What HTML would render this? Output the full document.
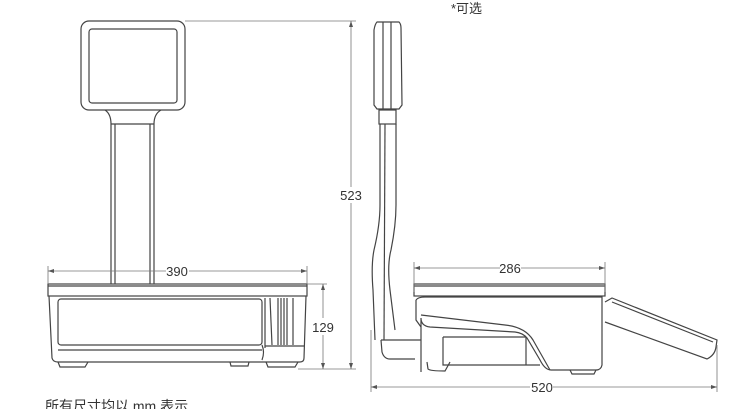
<!DOCTYPE html>
<html><head><meta charset="utf-8"><style>
html,body{margin:0;padding:0;background:#fff;width:755px;height:409px;overflow:hidden}
svg{display:block}
text{font-family:"Liberation Sans","Noto Sans CJK SC",sans-serif;fill:#333}
</style></head><body>
<svg width="755" height="409" viewBox="0 0 755 409" xmlns="http://www.w3.org/2000/svg">
<g fill="none" stroke="#444" stroke-width="1.2">
<!-- LEFT VIEW -->
<rect x="81" y="21" width="104" height="89" rx="8"/>
<rect x="89" y="29" width="88" height="74" rx="3"/>
<path d="M105 110 Q111 114 111 124 L111 284 M161 110 Q154 114 154 124 L154 284"/>
<line x1="111" y1="124" x2="154" y2="124"/>
<line x1="115" y1="124" x2="115" y2="284"/>
<line x1="150" y1="124" x2="150" y2="284"/>
<rect x="48" y="284" width="259" height="12"/>
<line x1="48" y1="286" x2="307" y2="286"/>
<path d="M49 296 L52 358 Q53 362 58 362 L300 362 Q304 362 304 358 L306 296"/>
<rect x="58" y="299" width="204" height="46" rx="3"/>
<line x1="58" y1="350" x2="262" y2="350"/>
<path d="M262 345 Q265 352 262 360"/>
<line x1="265" y1="298" x2="265" y2="348"/>
<line x1="270" y1="298" x2="272" y2="345"/>
<line x1="278" y1="298" x2="278" y2="345"/>
<line x1="281" y1="298" x2="281" y2="345"/>
<line x1="284" y1="298" x2="284" y2="345"/>
<line x1="287" y1="298" x2="287" y2="345"/>
<line x1="293" y1="298" x2="293" y2="345"/>
<line x1="265" y1="346" x2="304" y2="346"/>
<path d="M58 362 L60 367 L85 367 L88 362 M230 362 L231 366 L248 366 L249 362 M266 362 L268 367 L295 367 L298 362"/>
<!-- RIGHT VIEW -->
<path d="M377 22 L399 22 Q401 24 401 28 L402 105 L399 109 L377 109 L374 105 L374 30 Q375 24 377 22 Z"/>
<line x1="383" y1="22" x2="383" y2="109"/>
<line x1="391" y1="22" x2="391" y2="109"/>
<rect x="379" y="110" width="17" height="14"/>
<path d="M380 124 L380 205 Q380 225 374 250 Q371 265 373 290 L375 340 M396 124 L396 205 Q396 225 391 250 Q387 265 390 290 L395 330"/>
<line x1="385" y1="124" x2="384" y2="340"/>
<path d="M381 340 L421 340 M381 340 L382 352 Q384 359 390 359 L415 359"/>
<rect x="414" y="284" width="191" height="12"/>
<line x1="414" y1="286" x2="605" y2="286"/>
<path d="M416 300 Q418 297 425 297 L602 297 L602 365 Q601 370 596 370 L551 370 Q545 370 540 360 L527 338 Q523 333 515 332 L430 327 Q421 326 421 318 L421 372"/>
<path d="M421 315 L505 325 Q525 327 533 340 L550 370"/>
<path d="M443 337 L526 337 M443 337 L443 365 L540 365"/>
<line x1="526" y1="337" x2="526" y2="365"/>
<path d="M416 300 L416 320 L421 327"/>
<path d="M427 362 L428 369 Q430 371 445 371 L450 362"/>
<path d="M570 370 L572 374 L594 374 L596 370"/>
<path d="M605 302 L612 298 L717 340 L716 347 Q715 355 707 359 L605 322"/>
<line x1="612" y1="302" x2="713" y2="342"/>
</g>
<g fill="none" stroke="#777" stroke-width=".8">
<line x1="48" y1="266" x2="48" y2="284"/>
<line x1="307" y1="266" x2="307" y2="284"/>
<line x1="48" y1="271" x2="166" y2="271"/>
<line x1="189" y1="271" x2="307" y2="271"/>
<line x1="307" y1="284" x2="327" y2="284"/>
<line x1="298" y1="369" x2="356" y2="369"/>
<line x1="323" y1="284" x2="323" y2="318"/>
<line x1="323" y1="335" x2="323" y2="369"/>
<line x1="185" y1="21" x2="356" y2="21"/>
<line x1="351" y1="21" x2="351" y2="187"/>
<line x1="351" y1="203" x2="351" y2="369"/>
<line x1="414" y1="262" x2="414" y2="292"/>
<line x1="605" y1="262" x2="605" y2="292"/>
<line x1="414" y1="268" x2="500" y2="268"/>
<line x1="521" y1="268" x2="605" y2="268"/>
<line x1="371" y1="330" x2="371" y2="392"/>
<line x1="717" y1="345" x2="717" y2="392"/>
<line x1="371" y1="387" x2="530" y2="387"/>
<line x1="553" y1="387" x2="717" y2="387"/>
</g>
<g fill="#555">
<path d="M48 271 l6 -2 v4 z M307 271 l-6 -2 v4 z M323 284 l-2 6 h4 z M323 369 l-2 -6 h4 z M351 21 l-2 6 h4 z M351 369 l-2 -6 h4 z M414 268 l6 -2 v4 z M605 268 l-6 -2 v4 z M371 387 l6 -2 v4 z M717 387 l-6 -2 v4 z"/>
</g>
<text x="177" y="276" font-size="13" text-anchor="middle">390</text>
<text x="323" y="332" font-size="13" text-anchor="middle">129</text>
<text x="351" y="200" font-size="13" text-anchor="middle">523</text>
<text x="510" y="273" font-size="13" text-anchor="middle">286</text>
<text x="542" y="392" font-size="13" text-anchor="middle">520</text>
<text x="451" y="13" font-size="13">*可选</text>
<text x="45" y="411" font-size="14">所有尺寸均以 mm 表示</text>
</svg>
</body></html>
